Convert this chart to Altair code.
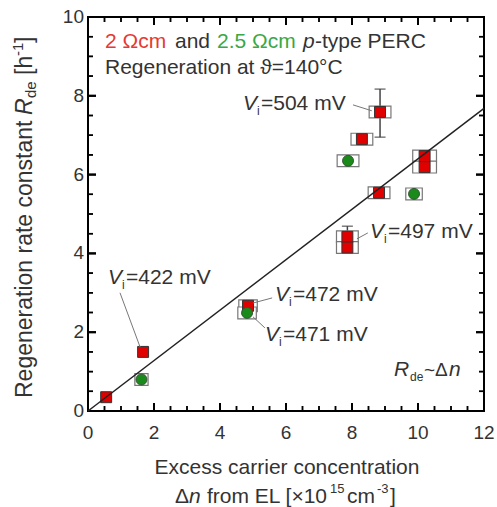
import altair as alt
import pandas as pd

FONT = "Liberation Sans"
TXT = "#333333"

# ---- data ----
red_x = [0.55, 1.67, 4.85, 7.86, 7.86, 8.85, 8.30, 8.82, 10.20, 10.20]
red_y = [0.35, 1.50, 2.67, 4.42, 4.15, 7.59, 6.90, 5.54, 6.47, 6.19]
red_hw = [0.0, 0.0, 0.28, 0.33, 0.33, 0.33, 0.33, 0.33, 0.36, 0.36]   # x-uncertainty half width
green_x = [1.62, 4.82, 7.88, 9.88]
green_y = [0.80, 2.49, 6.35, 5.51]
green_hw = [0.20, 0.28, 0.33, 0.25]
box_hh = 0.15

err_x = [8.85, 7.86]
err_lo = [6.95, 4.30]
err_hi = [8.17, 4.69]
cap_x = [8.85, 8.85, 7.86]
cap_y = [8.17, 6.95, 4.69]

fit_x = [0, 12]
fit_y = [0, 7.68]

lead_x1 = [8.03, 8.48, 5.58, 5.36, 0.97]
lead_y1 = [7.77, 4.52, 2.87, 2.11, 3.00]
lead_x2 = [8.60, 8.15, 5.00, 5.00, 1.58]
lead_y2 = [7.62, 4.37, 2.74, 2.39, 1.62]

x_major = [0, 2, 4, 6, 8, 10, 12]
x_minor = [0.5, 1, 1.5, 2.5, 3, 3.5, 4.5, 5, 5.5, 6.5, 7, 7.5, 8.5, 9, 9.5, 10.5, 11, 11.5]
y_major = [0, 2, 4, 6, 8, 10]
y_minor = [0.5, 1, 1.5, 2.5, 3, 3.5, 4.5, 5, 5.5, 6.5, 7, 7.5, 8.5, 9, 9.5]

W, H = 396, 394
XMAX, YMAX = 12, 10

# ---- tables ----
red = pd.DataFrame({"x": red_x, "y": red_y, "hw": red_hw})
green = pd.DataFrame({"x": green_x, "y": green_y, "hw": green_hw})
boxes = pd.concat([red, green])
boxes = boxes[boxes.hw > 0].copy()
boxes["x1"] = boxes.x - boxes.hw
boxes["x2"] = boxes.x + boxes.hw
boxes["y1"] = boxes.y - box_hh
boxes["y2"] = boxes.y + box_hh
errs = pd.DataFrame({"x": err_x, "lo": err_lo, "hi": err_hi})
caps = pd.DataFrame({"x": cap_x, "y": cap_y})
fit = pd.DataFrame({"x": fit_x, "y": fit_y})
leads = pd.DataFrame({"x1": lead_x1, "y1": lead_y1, "x2": lead_x2, "y2": lead_y2})
xmaj = pd.DataFrame({"v": x_major})
ymaj = pd.DataFrame({"v": y_major})
dummy = pd.DataFrame({"d": [0]})


def tick_rects(xs, ys, length_px, width_px):
    """Inward tick marks on all four sides as thin rectangles (pixel sizes -> data units)."""
    lx, ly = length_px * XMAX / W, length_px * YMAX / H
    wx, wy = 0.5 * width_px * XMAX / W, 0.5 * width_px * YMAX / H
    rows = []
    for v in xs:
        rows.append((v - wx, v + wx, 0.0, ly))
        rows.append((v - wx, v + wx, YMAX - ly, float(YMAX)))
    for v in ys:
        rows.append((0.0, lx, v - wy, v + wy))
        rows.append((XMAX - lx, float(XMAX), v - wy, v + wy))
    return pd.DataFrame(rows, columns=["a1", "a2", "b1", "b2"])


major_ticks = tick_rects(x_major, y_major, 8, 2)
minor_ticks = tick_rects(x_minor, y_minor, 5, 1.5)

XS = alt.Scale(domain=[0, XMAX], nice=False, zero=False)
YS = alt.Scale(domain=[0, YMAX], nice=False, zero=False)


def txt(s, x, y, size=21, style="normal", color=TXT, angle=0, align="left"):
    return alt.Chart(dummy).mark_text(
        text=s, font=FONT, fontSize=size, fontStyle=style, color=color,
        angle=angle, align=align, baseline="middle"
    ).encode(x=alt.value(x), y=alt.value(y))


def tickmarks(df):
    return alt.Chart(df).mark_rect(fill="black", opacity=1).encode(
        x=alt.X("a1:Q", scale=XS, axis=None), x2="a2:Q",
        y=alt.Y("b1:Q", scale=YS, axis=None), y2="b2:Q")


def xtk(values, name, length, width, at):
    return alt.Chart(pd.DataFrame({name: values})).mark_tick(
        orient="vertical", size=length, thickness=width, color="black", opacity=1
    ).encode(x=alt.X(name + ":Q", scale=XS, axis=None), y=alt.value(at))


def ytk(values, name, length, width, at):
    return alt.Chart(pd.DataFrame({name: values})).mark_tick(
        orient="horizontal", size=length, thickness=width, color="black", opacity=1
    ).encode(y=alt.Y(name + ":Q", scale=YS, axis=None), x=alt.value(at))


errbars = alt.Chart(errs).mark_rule(color="#444444", strokeWidth=1.5).encode(
    x=alt.X("x:Q", scale=XS, axis=None), y=alt.Y("lo:Q", scale=YS, axis=None), y2="hi:Q")
capmarks = alt.Chart(caps).mark_tick(orient="horizontal", size=11, thickness=1.5,
                                     color="#444444").encode(
    x=alt.X("x:Q", scale=XS, axis=None), y=alt.Y("y:Q", scale=YS, axis=None))

boxmarks = alt.Chart(boxes).mark_rect(fill="white", stroke="#777777", strokeWidth=1.2).encode(
    x=alt.X("x1:Q", scale=XS, axis=None), x2="x2:Q",
    y=alt.Y("y1:Q", scale=YS, axis=None), y2="y2:Q")

redpts = alt.Chart(red).mark_point(shape="square", filled=True, fill="#e00000",
                                   stroke="#333333", strokeWidth=1, size=120, opacity=1).encode(
    x=alt.X("x:Q", scale=XS, axis=None), y=alt.Y("y:Q", scale=YS, axis=None))

greenpts = alt.Chart(green).mark_point(shape="circle", filled=True, fill="#1a8a1a",
                                       stroke="#335533", strokeWidth=1, size=120, opacity=1).encode(
    x=alt.X("x:Q", scale=XS, axis=None), y=alt.Y("y:Q", scale=YS, axis=None))

fitline = alt.Chart(fit).mark_line(color="#222222", strokeWidth=1.5).encode(
    x=alt.X("x:Q", scale=XS, axis=None), y=alt.Y("y:Q", scale=YS, axis=None))

leaders = alt.Chart(leads).mark_rule(color="#777777", strokeWidth=1).encode(
    x=alt.X("x1:Q", scale=XS, axis=None), y=alt.Y("y1:Q", scale=YS, axis=None),
    x2="x2:Q", y2="y2:Q")

xlabels = alt.Chart(xmaj).mark_text(font=FONT, fontSize=19, color=TXT, baseline="middle",
                                    align="center").encode(
    x=alt.X("v:Q", scale=XS, axis=None), y=alt.value(H + 22), text=alt.Text("v:Q", format="d"))
ylabels = alt.Chart(ymaj).mark_text(font=FONT, fontSize=19, color=TXT, baseline="middle",
                                    align="right").encode(
    y=alt.Y("v:Q", scale=YS, axis=None), x=alt.value(-4), text=alt.Text("v:Q", format="d"))

tick_layers = [
    tickmarks(major_ticks), tickmarks(minor_ticks),
    ytk(y_major, "lmaj", 8, 2, 4), ytk(y_minor, "lmin", 5, 1.5, 2.5),
    ytk(y_major, "rmaj", 8, 2, W - 4), ytk(y_minor, "rmin", 5, 1.5, W - 2.5),
    xtk(x_major, "bmaj", 8, 2, H - 4), xtk(x_minor, "bmin", 5, 1.5, H - 2.5),
    xtk(x_major, "tmaj", 8, 2, 4), xtk(x_minor, "tmin", 5, 1.5, 2.5),
]

texts = [
    # header
    txt("2 Ωcm", 17, 25, color="#e53935"),
    txt("and", 87, 25),
    txt("2.5 Ωcm", 129, 25, color="#3aa845"),
    txt("p", 215, 25, style="italic"),
    txt("-type PERC", 227, 25),
    txt("Regeneration at ϑ=140°C", 17, 51),
    # R_de ~ Δn
    txt("R", 306, 353, style="italic"),
    txt("de", 322, 360, size=12),
    txt("~Δ", 336, 353, size=19),
    txt("n", 361, 353, style="italic"),
    # x title
    txt("Excess carrier concentration", 199, 451, align="center"),
    txt("Δ", 87, 480),
    txt("n", 101, 480, style="italic"),
    txt("from EL [×10", 119, 480),
    txt("15", 242, 472, size=13),
    txt("cm", 259, 480),
    txt("-3", 289, 472, size=13),
    txt("]", 302, 480),
    # y title
    txt("Regeneration rate constant", -63, 381, size=23, angle=270),
    txt("R", -63, 98, size=23, style="italic", angle=270),
    txt("de", -57, 81, size=15, angle=270),
    txt("[h", -63, 58, size=23, angle=270),
    txt("-1", -70, 39, size=15, angle=270),
    txt("]", -63, 26, size=23, angle=270),
]

vlabels = [("504", 155, 87), ("497", 282, 215), ("472", 187, 278),
           ("471", 177, 318), ("422", 20, 261)]
for val, px, py in vlabels:
    texts += [txt("V", px, py, size=21, style="italic"),
              txt("i", px + 14, py + 7, size=12),
              txt("=" + val + " mV", px + 18, py, size=21)]

chart = alt.layer(*tick_layers, errbars, capmarks, boxmarks, redpts, greenpts, fitline, leaders,
                  xlabels, ylabels, *texts).properties(
    width=W, height=H,
    autosize=alt.AutoSizeParams(type="none"),
    padding={"left": 88, "top": 17, "right": 13, "bottom": 96},
    background="white",
).configure_view(stroke="black", strokeWidth=2)

chart.save("out.html", embed_options={"renderer": "svg", "actions": False})
